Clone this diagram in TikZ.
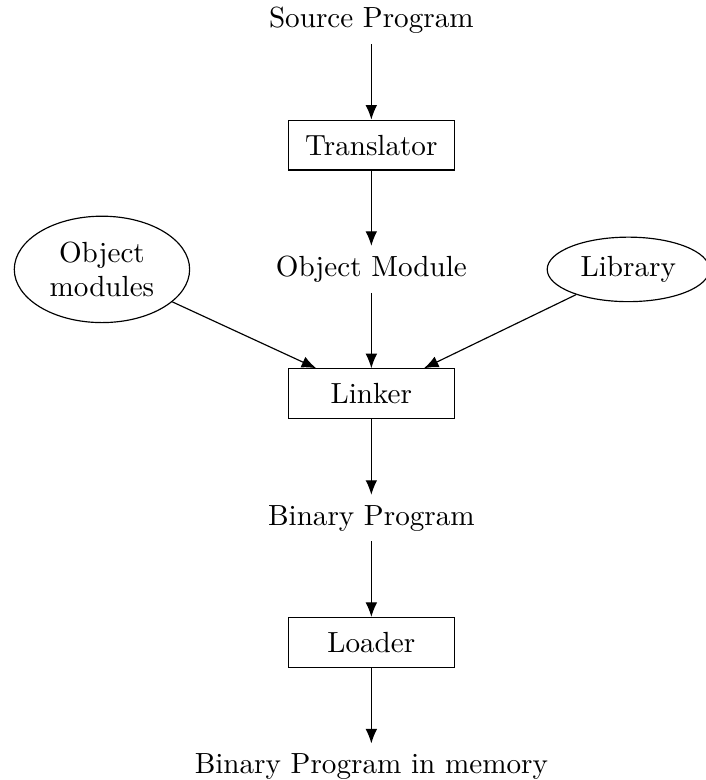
\documentclass[tikz,border=0pt]{standalone}
\usetikzlibrary{positioning,shapes,arrows.meta}

\begin{document}
\begin{tikzpicture}[>={Latex[length=5pt,width=4pt]},
    block/.style={draw,rectangle,minimum width=2cm,minimum height=0.6cm},
    oval/.style={draw,ellipse,align=center}]
  \useasboundingbox (-4.48,-4.66) rectangle (4.03,4.75);
  \node (src) at (0,4.5) {Source Program};
  \node [block] (trans) at (0,3) {Translator};
  \node (objmod) at (0,1.5) {Object Module};
  \node [block] (linker) at (0,0) {Linker};
  \node (bin) at (0,-1.5) {Binary Program};
  \node [block] (loader) at (0,-3) {Loader};
  \node (mem) at (0,-4.5) {Binary Program in memory};
  \node [oval] (objs) at (-3.25,1.5) {Object\\modules};
  \node [oval] (lib) at (3.1,1.5) {Library};
  % main chain
  \draw [->] (src) -- (trans);
  \draw [->] (trans) -- (objmod);
  \draw [->] (objmod) -- (linker);
  \draw [->] (linker) -- (bin);
  \draw [->] (bin) -- (loader);
  \draw [->] (loader) -- (mem);
  % side inputs to the linker
  \draw [->] (objs) -- (linker);
  \draw [->] (lib) -- (linker);
\end{tikzpicture}
\end{document}
